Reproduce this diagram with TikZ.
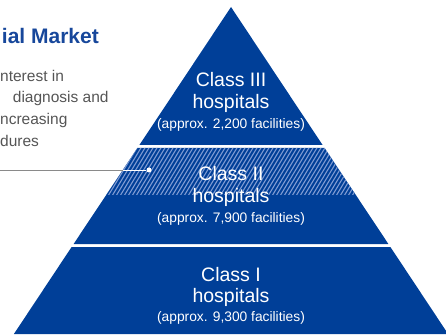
\documentclass[tikz,border=0pt]{standalone}
\usepackage{fontspec}
\setmainfont{Liberation Sans}
\definecolor{pyrblue}{HTML}{003F98}
\definecolor{stripeblue}{HTML}{7E9AD2}
\definecolor{titleblue}{HTML}{17479B}
\definecolor{bodygray}{HTML}{555555}
\definecolor{pingray}{HTML}{8A8A8A}
\begin{document}
\begin{tikzpicture}[x=1pt,y=-1pt,
  tiername/.style={text=white,anchor=base,inner sep=0pt,font=\fontsize{19.5}{22}\selectfont},
  tiersub/.style={text=white,anchor=base,inner sep=0pt,font=\fontsize{13.8}{16}\selectfont},
  bodytext/.style={text=bodygray,anchor=base west,inner sep=0pt,font=\fontsize{15.5}{18}\selectfont},
  titletext/.style={text=titleblue,anchor=base east,inner sep=0pt,font=\fontsize{21}{24}\selectfont\bfseries},
  stripe/.style={stripeblue,line width=1.1pt},
  pindot/.style={circle,fill=white,minimum size=5pt,inner sep=0pt},
]
\useasboundingbox (0,0) rectangle (446,336);
\clip (0,0) rectangle (446,336);
% tiers
\fill[pyrblue] (231,7) -- (322.6,145) -- (139.4,145) -- cycle;
\fill[pyrblue] (137.4,148) -- (324.6,148) -- (388.4,244) -- (73.6,244) -- cycle;
\begin{scope}
  \clip (137.4,148) -- (324.6,148) -- (355.8,195) -- (106.2,195) -- cycle;
  \foreach \i in {0,...,72} \draw[stripe] (76+4*\i,196) -- ++(29.5,-49);
\end{scope}
\fill[pyrblue] (71.6,247) -- (390.4,247) -- (448.1,334) -- (13.9,334) -- cycle;
% tier texts
\node[tiername] (t3a) at (231,87) {Class III};
\node[tiername] (t3b) at (231,109) {hospitals};
\node[tiersub] (t3c) at (231,128.5) {(approx. 2,200 facilities)};
\node[tiername] (t2a) at (231,181) {Class II};
\node[tiername] (t2b) at (231,203) {hospitals};
\node[tiersub] (t2c) at (231,222.5) {(approx. 7,900 facilities)};
\node[tiername] (t1a) at (231,281) {Class I};
\node[tiername] (t1b) at (231,302) {hospitals};
\node[tiersub] (t1c) at (231,321) {(approx. 9,300 facilities)};
% left text
\node[titletext] (title) at (99,44) {ial Market};
\node[bodytext] (b1) at (0,82) {nterest in};
\node[bodytext] (b2) at (12.7,103) {diagnosis and};
\node[bodytext] (b3) at (0,124.5) {ncreasing};
\node[bodytext] (b4) at (0,146.5) {dures};
% pointer
\coordinate (lstart) at (0,170);
\coordinate (ledge) at (122.8,170);
\node[pindot] (pin) at (149,170) {};
\draw[pingray,line width=0.8pt] (lstart) -- (ledge);
\draw[white,line width=0.8pt] (ledge) -- (pin);
\end{tikzpicture}
\end{document}
